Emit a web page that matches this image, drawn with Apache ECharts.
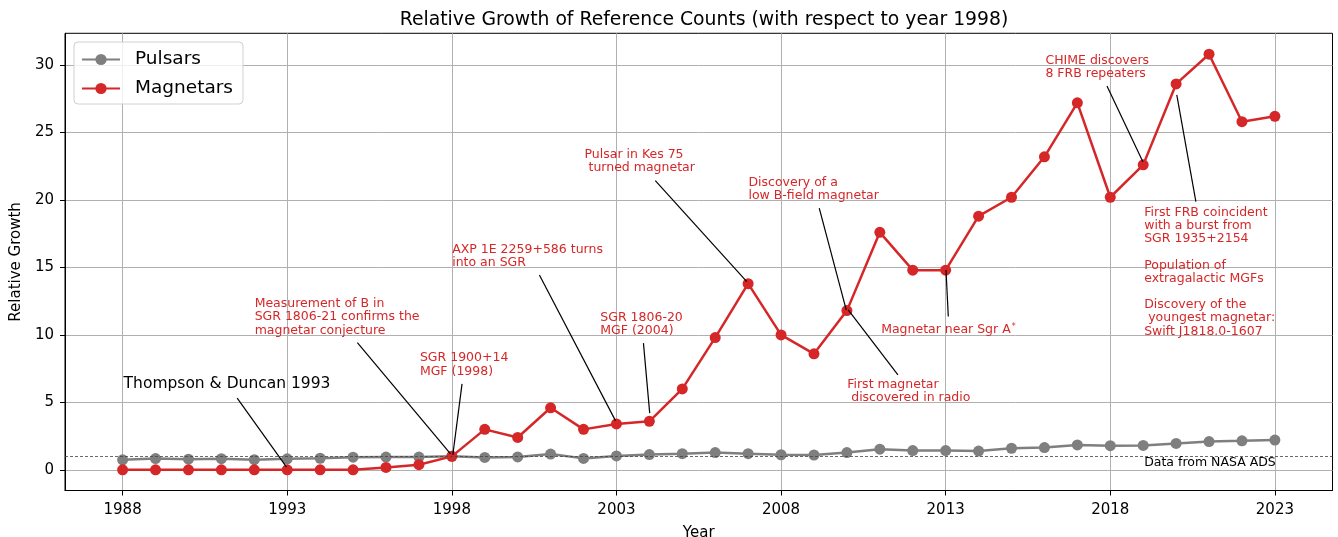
<!DOCTYPE html>
<html><head><meta charset="utf-8">
<script src="https://cdn.jsdelivr.net/npm/echarts@6/dist/echarts.min.js"></script>
<style>html,body{margin:0;padding:0;background:#fff}#c{width:1338px;height:537px}</style>
</head><body><div id="c"></div>
<script>
const years = [1988,1989,1990,1991,1992,1993,1994,1995,1996,1997,1998,1999,2000,2001,2002,2003,2004,2005,2006,2007,2008,2009,2010,2011,2012,2013,2014,2015,2016,2017,2018,2019,2020,2021,2022,2023];
const pulsars = [0.74,0.84,0.79,0.83,0.75,0.82,0.86,0.94,0.95,0.95,1.0,0.92,0.96,1.17,0.85,1.03,1.13,1.2,1.28,1.2,1.12,1.1,1.28,1.53,1.43,1.43,1.39,1.6,1.65,1.85,1.79,1.81,1.96,2.1,2.15,2.21];
const magnetars = [0,0,0,0,0,0,0,0,0.18,0.38,1.0,3.0,2.4,4.6,3.0,3.4,3.6,6.0,9.8,13.8,10.0,8.6,11.8,17.6,14.8,14.8,18.8,20.2,23.2,27.2,20.2,22.6,28.6,30.8,25.8,26.2];
const xTicks = [1988,1993,1998,2003,2008,2013,2018,2023];
const yTicks = [0,5,10,15,20,25,30];
const refLevel = 1;

const annotTexts = [
  'Thompson & Duncan 1993',
  'Measurement of B in\nSGR 1806-21 confirms the\nmagnetar conjecture',
  'SGR 1900+14\nMGF (1998)',
  'AXP 1E 2259+586 turns\ninto an SGR',
  'SGR 1806-20\nMGF (2004)',
  'Pulsar in Kes 75\n turned magnetar',
  'Discovery of a\nlow B-field magnetar',
  'First magnetar\n discovered in radio',
  '{a|Magnetar near Sgr A}{s|*}',
  'CHIME discovers\n8 FRB repeaters',
  'First FRB coincident\nwith a burst from\nSGR 1935+2154\n\nPopulation of\nextragalactic MGFs\n\nDiscovery of the\n youngest magnetar:\nSwift J1818.0-1607'
];
const annotTextAt = [[1988.03,7.04],[1992.01,12.79],[1997.03,8.76],[1998.01,16.79],[2002.51,11.77],[2002.03,23.82],[2007.01,21.8],[2010.01,6.79],[2011.04,10.86],[2016.03,30.81],[2019.03,19.55]];
const annotLineFrom = [[1991.48,5.31],[1995.13,9.43],[1998.31,6.37],[2000.66,14.44],[2003.82,9.39],[2004.18,21.43],[2009.16,19.39],[2011.55,7.04],[2013.08,11.36],[2017.90,28.44],[2020.6,19.87]];
const annotLineTo = [[1992.98,0.2],[1997.96,1.19],[1998.03,1.11],[2002.97,3.65],[2004.01,4.2],[2006.96,13.95],[2009.98,11.85],[2010.04,11.85],[2013.01,14.81],[2018.99,22.84],[2020.02,27.78]];
const sourceNote = 'Data from NASA ADS';
const sourceNoteAt = [2019.03, 0.99];

const FONT = '"DejaVu Sans", sans-serif';
const RED = '#d62728', GRAY = '#7f7f7f';

const chart = echarts.init(document.getElementById('c'), null, {renderer:'canvas'});
const option = {
  animation: false,
  backgroundColor: '#fff',
  textStyle: {fontFamily: FONT},
  title: {
    text: 'Relative Growth of Reference Counts (with respect to year 1998)',
    left: 699, top: 6, textAlign: 'center',
    textStyle: {fontFamily: FONT, fontSize: 18.8, fontWeight: 'normal', color: '#000'}
  },
  grid: {left: 65, right: 5.5, top: 33.3, bottom: 46.5, outerBoundsMode: 'none', containLabel: false, show: true, borderColor: '#000', borderWidth: 1, backgroundColor: 'transparent'},
  legend: {
    orient: 'vertical', left: 74, top: 42,
    padding: [8, 10, 6, 7], itemGap: 10,
    itemWidth: 38, itemHeight: 14,
    backgroundColor: 'rgba(255,255,255,0.8)', borderColor: '#d0d0d0', borderWidth: 1, borderRadius: 4,
    textStyle: {fontFamily: FONT, fontSize: 18.5, color: '#000', padding: [0,0,0,10]},
    data: ['Pulsars', 'Magnetars']
  },
  xAxis: {
    type: 'value', min: 1986.25, max: 2024.75,
    name: 'Year', nameLocation: 'middle', nameGap: 35,
    nameTextStyle: {fontFamily: FONT, fontSize: 15, color: '#000'},
    axisLine: {show: true, onZero: false, lineStyle: {color: '#000', width: 1}},
    axisTick: {show: true, length: 5, lineStyle: {color: '#000'}, customValues: xTicks},
    axisLabel: {fontFamily: FONT, fontSize: 15, color: '#000', margin: 12, customValues: xTicks, formatter: v => String(v)},
    splitLine: {show: true, lineStyle: {color: '#b0b0b0', width: 1}}
  },
  yAxis: {
    type: 'value', min: -1.53, max: 32.35,
    name: 'Relative Growth', nameLocation: 'middle', nameGap: 38, nameRotate: 90,
    nameTextStyle: {fontFamily: FONT, fontSize: 15, color: '#000'},
    axisLine: {show: true, onZero: false, lineStyle: {color: '#000', width: 1}},
    axisTick: {show: true, length: 5, lineStyle: {color: '#000'}, customValues: yTicks},
    axisLabel: {fontFamily: FONT, fontSize: 15, color: '#000', margin: 11, customValues: yTicks, formatter: v => String(v)},
    splitLine: {show: true, lineStyle: {color: '#b0b0b0', width: 1}}
  },
  series: [
    {
      name: 'Pulsars', type: 'line', symbol: 'circle', symbolSize: 11,
      data: years.map((y, i) => [y, pulsars[i]]),
      itemStyle: {color: GRAY}, lineStyle: {color: GRAY, width: 2.5},
      markLine: {
        silent: true, symbol: 'none', label: {show: false},
        lineStyle: {color: '#444', width: 0.8, type: [3, 2]},
        data: [{yAxis: refLevel}]
      }
    },
    {
      name: 'Magnetars', type: 'line', symbol: 'circle', symbolSize: 11,
      data: years.map((y, i) => [y, magnetars[i]]),
      itemStyle: {color: RED}, lineStyle: {color: RED, width: 2.5}
    }
  ]
};
chart.setOption(option);

const toPx = p => chart.convertToPixel({gridIndex: 0}, p);
const graphics = [];
annotLineFrom.forEach((f, i) => {
  const a = toPx(f), b = toPx(annotLineTo[i]);
  graphics.push({type: 'line', z: 50, shape: {x1: a[0], y1: a[1], x2: b[0], y2: b[1]}, style: {stroke: '#000', lineWidth: 1.2}});
});
annotTexts.forEach((t, i) => {
  const p = toPx(annotTextAt[i]);
  const isFirst = i === 0;
  graphics.push({
    type: 'text', z: 60, x: p[0], y: p[1],
    style: {
      text: t,
      fill: isFirst ? '#000' : RED,
      fontFamily: FONT,
      fontSize: isFirst ? 15.5 : 12.5,
      lineHeight: isFirst ? 18 : 13.2,
      verticalAlign: 'top', align: 'left',
      rich: {a: {fill: RED, fontFamily: FONT, fontSize: 12.5, lineHeight: 13.2}, s: {fill: RED, fontFamily: FONT, fontSize: 8, verticalAlign: 'top', lineHeight: 8, padding: [0,0,0,1]}}
    }
  });
});
const sp = toPx(sourceNoteAt);
graphics.push({type: 'text', z: 60, x: sp[0], y: sp[1], style: {text: sourceNote, fill: '#000', fontFamily: FONT, fontSize: 12.5, lineHeight: 13.2, verticalAlign: 'top'}});
chart.setOption({graphic: graphics});
</script></body></html>
